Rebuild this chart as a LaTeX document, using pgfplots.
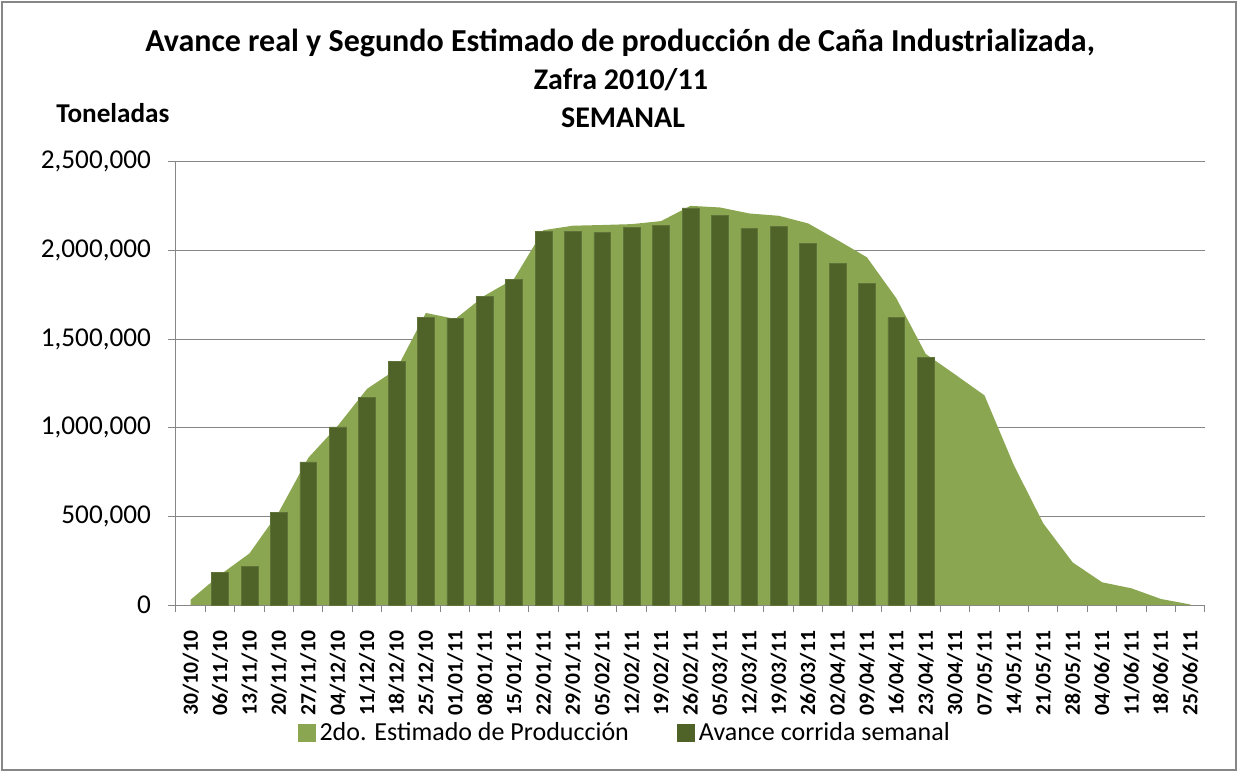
\documentclass[border=0pt]{standalone}
\usepackage{pgfplots}
\pgfplotsset{compat=1.18}
\usepackage{fontspec}
\setmainfont{Carlito}
\definecolor{areagreen}{RGB}{138,166,80}
\definecolor{bardark}{RGB}{79,98,40}
\definecolor{baredge}{RGB}{96,116,58}
\definecolor{gridgray}{RGB}{134,134,134}
\definecolor{framegray}{RGB}{134,134,134}

\pgfplotstableread{
x y
0 30000
1 170000
2 291000
3 525000
4 830000
5 1010000
6 1219000
7 1330000
8 1647000
9 1613000
10 1745000
11 1840000
12 2114000
13 2139000
14 2143000
15 2148000
16 2165000
17 2251000
18 2242000
19 2208000
20 2195000
21 2152000
22 2058000
23 1961000
24 1730000
25 1416000
26 1300000
27 1182000
28 788000
29 460000
30 240000
31 128000
32 94000
33 34000
34 3000
}\estimado

\pgfplotstableread{
x y
1 182000
2 216000
3 520000
4 807000
5 1004000
6 1172000
7 1375000
8 1623000
9 1615000
10 1739000
11 1837000
12 2107000
13 2109000
14 2101000
15 2131000
16 2143000
17 2240000
18 2195000
19 2122000
20 2135000
21 2041000
22 1927000
23 1814000
24 1621000
25 1398000
}\avance

\begin{document}
\begin{tikzpicture}
\path[use as bounding box] (0,0) rectangle (619pt,386pt);
\draw[framegray, line width=0.8pt] (1pt,1pt) rectangle (618pt,385pt);
\node[anchor=base, inner sep=0pt, font=\bfseries\fontsize{16}{18}\selectfont] at (310pt,360pt) {Avance real y Segundo Estimado de producción de Caña Industrializada,};
\node[anchor=base, inner sep=0pt, font=\bfseries\fontsize{15}{17}\selectfont] at (310.5pt,341pt) {Zafra 2010/11};
\node[anchor=base, inner sep=0pt, font=\bfseries\fontsize{15}{17}\selectfont] at (311.5pt,322pt) {SEMANAL};
\node[anchor=base west, inner sep=0pt, font=\bfseries\fontsize{13.6}{15}\selectfont] at (28pt,324.8pt) {Toneladas};
\begin{axis}[
  at={(88pt,83.5pt)}, anchor=south west,
  scale only axis, width=514.5pt, height=221.65pt,
  xmin=-0.5, xmax=34.5, ymin=0, ymax=2500000,
  axis x line*=bottom, axis y line*=left,
  axis line style={gridgray, line width=0.5pt},
  ymajorgrids, grid style={gridgray, line width=0.5pt},
  ytick={0,500000,1000000,1500000,2000000,2500000},
  scaled y ticks=false,
  yticklabel style={font=\fontsize{13.6}{15}\selectfont, xshift=-5pt, /pgf/number format/fixed, /pgf/number format/1000 sep={,}, /pgf/number format/assume math mode=true},
  xtick={0,...,34},
  xticklabels={30/10/10,06/11/10,13/11/10,20/11/10,27/11/10,04/12/10,11/12/10,18/12/10,25/12/10,01/01/11,08/01/11,15/01/11,22/01/11,29/01/11,05/02/11,12/02/11,19/02/11,26/02/11,05/03/11,12/03/11,19/03/11,26/03/11,02/04/11,09/04/11,16/04/11,23/04/11,30/04/11,07/05/11,14/05/11,21/05/11,28/05/11,04/06/11,11/06/11,18/06/11,25/06/11},
  xticklabel style={font=\bfseries\fontsize{10.8}{12}\selectfont, rotate=90, anchor=east, xshift=-5.5pt},
  minor xtick={-0.5,0.5,...,34.5},
  tick align=outside,
  major tick length=4pt, minor tick length=3.5pt,
  major x tick style={draw=none},
  every tick/.style={gridgray, line width=0.5pt},
  minor x tick style={gridgray, line width=0.5pt},
  legend columns=2,
  legend style={draw=none, fill=none, at={(0.437,-0.289)}, anchor=center,
    font=\fontsize{13}{15}\selectfont,
    /tikz/every even column/.append style={column sep=22pt}},
  legend image code/.code={\fill[#1, draw=none] (0pt,-4.5pt) rectangle (9pt,4.5pt);},
]
\addplot[fill=areagreen, draw=none] table[x=x,y=y] {\estimado} \closedcycle;
\addlegendentry{2do. Estimado de Producción}
\addplot[ybar, bar width=0.57, bar shift=0pt, fill=bardark, draw=baredge, line width=0.3pt] table[x=x,y=y] {\avance};
\addlegendentry{Avance corrida semanal}
\end{axis}
\end{tikzpicture}
\end{document}
